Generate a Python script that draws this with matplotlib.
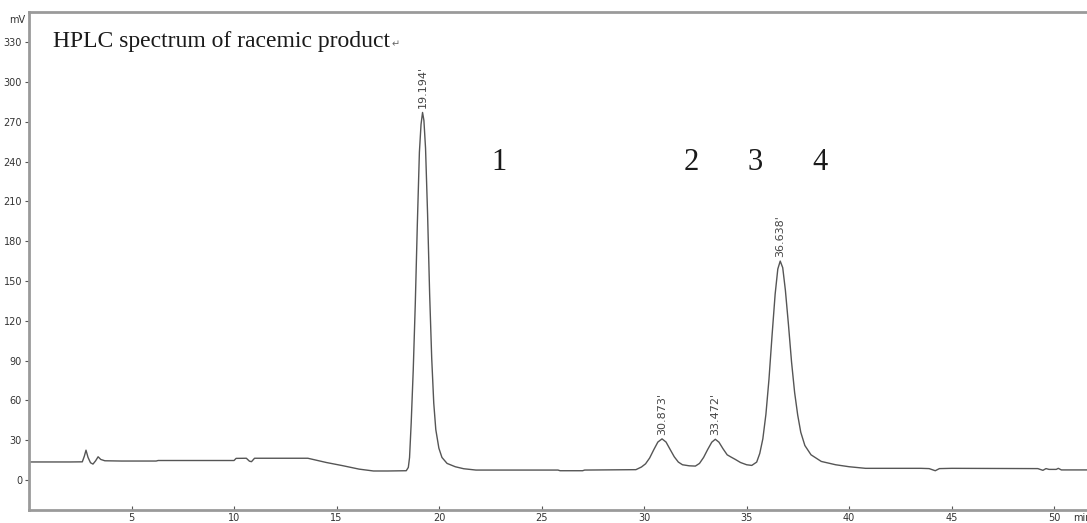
import matplotlib
matplotlib.use("Agg")
import matplotlib.pyplot as plt

# chromatogram trace: retention time (min) / detector signal (mV)
time_min = [
    0.0, 1.0, 2.0, 2.6, 2.7, 2.78, 2.88, 3.0, 3.12, 3.25, 3.37, 3.5, 3.7,
    4.5, 6.2, 6.3, 8.0, 10.0, 10.1, 10.6, 10.75, 10.85, 11.0, 12.0, 13.6,
    14.5, 15.3, 16.1, 16.8, 17.5, 18.4, 18.5, 18.56, 18.64, 18.74, 18.84,
    18.94, 19.04, 19.12, 19.194, 19.26, 19.34, 19.44, 19.54, 19.64, 19.74,
    19.84, 19.99, 20.14, 20.39, 20.79, 21.2, 21.8, 25.8, 25.9, 27.0, 27.1,
    29.6, 29.87, 30.07, 30.27, 30.47, 30.67, 30.873, 31.07, 31.27, 31.47,
    31.67, 31.87, 32.2, 32.5, 32.7, 32.9, 33.1, 33.3, 33.472, 33.65, 33.85,
    34.05, 34.25, 34.45, 34.7, 35.0, 35.25, 35.49, 35.64, 35.79, 35.94,
    36.09, 36.24, 36.39, 36.52, 36.638, 36.76, 36.89, 37.04, 37.19, 37.34,
    37.49, 37.64, 37.84, 38.14, 38.64, 39.34, 40.0, 40.8, 43.5, 43.9, 44.2,
    44.4, 45.0, 49.2, 49.45, 49.6, 49.75, 50.1, 50.2, 50.35, 51.6,
]
signal_mv = [
    13.6, 13.6, 13.6, 13.7, 18.0, 22.5, 17.0, 13.0, 12.0, 14.5, 17.5, 15.5, 14.5,
    14.3, 14.3, 14.7, 14.7, 14.7, 16.3, 16.4, 14.2, 13.8, 16.4, 16.4, 16.4,
    13.2, 10.8, 8.2, 6.8, 6.8, 7.0, 9.5, 17.0, 43.0, 83.0, 133.0,
    193.0, 247.0, 268.0, 277.0, 271.0, 250.0, 200.0, 140.0, 92.0, 58.0,
    38.0, 24.0, 17.0, 12.5, 10.0, 8.5, 7.5, 7.5, 7.0, 7.0, 7.5,
    7.8, 9.8, 12.2, 16.6, 22.8, 28.6, 31.0, 28.6, 23.0, 17.5,
    13.5, 11.5, 10.7, 10.5, 12.5, 17.0, 23.0, 28.5, 30.7, 28.5, 23.5,
    19.0, 17.2, 15.5, 13.2, 11.5, 11.0, 13.5, 20.0, 31.0, 49.5,
    76.0, 109.0, 140.0, 159.0, 165.0, 160.0, 143.0, 117.0, 89.0, 66.0,
    49.0, 36.0, 26.0, 19.0, 14.0, 11.5, 10.0, 8.8, 8.8, 8.6, 7.0,
    8.6, 8.8, 8.6, 7.3, 8.6, 8.0, 8.0, 8.8, 7.6, 7.6,
]

# integrated peaks
peak_rt = [19.194, 30.873, 33.472, 36.638]
peak_mv = [277.0, 31.0, 30.7, 165.0]

# compound numbers written over the trace
number_labels = ["1", "2", "3", "4"]
number_x = [22.9, 32.3, 35.4, 38.6]
number_y = [239, 239, 239, 239]

yticks = list(range(0, 331, 30))
xticks = list(range(5, 51, 5))

tick_font = ["Liberation Sans Narrow", "DejaVu Sans"]
serif = ["Liberation Serif", "DejaVu Serif"]
frame_col = "#9a9a9a"

fig = plt.figure(figsize=(10.87, 5.23), dpi=100)
ax = fig.add_axes([29 / 1087, 13 / 523, 1058 / 1087, 498 / 523])

ax.plot(time_min, signal_mv, color="#555555", linewidth=1.0)

ax.set_xlim(0, 51.6)
ax.set_ylim(-22.6, 352.7)

for s in ["left", "top", "bottom"]:
    ax.spines[s].set_color(frame_col)
    ax.spines[s].set_linewidth(2)
ax.spines["right"].set_visible(False)

ax.set_yticks(yticks)
ax.set_yticklabels([str(v) for v in yticks], fontsize=7, family=tick_font, color="#333333")
ax.set_xticks(xticks)
ax.set_xticklabels([str(v) for v in xticks], fontsize=7, family=tick_font, color="#333333")
ax.tick_params(axis="y", direction="out", length=3, width=0.8, color="#555555", pad=2)
ax.tick_params(axis="x", direction="in", length=3, width=0.8, color="#555555", pad=2)

# axis units
ax.text(-0.004, 346.5, "mV", ha="right", va="center", fontsize=7, family=tick_font,
        color="#333333", transform=ax.get_yaxis_transform())
ax.text(50.9, -0.006, "min", ha="left", va="top", fontsize=7, family=tick_font,
        color="#333333", transform=ax.get_xaxis_transform())

# retention time labels above each peak
for rt, h in zip(peak_rt, peak_mv):
    ax.annotate(f"{rt:.3f}'", xy=(rt, h), xytext=(0, 3), textcoords="offset points",
                rotation=90, ha="center", va="bottom", fontsize=8,
                family=tick_font, color="#444444")

for lab, x, y in zip(number_labels, number_x, number_y):
    ax.text(x, y, lab, ha="center", va="center", fontsize=22,
            family=serif, color="#1a1a1a")

title = ax.text(0.0227, 0.93, "HPLC spectrum of racemic product", transform=ax.transAxes,
                ha="left", va="baseline", fontsize=17, family=serif, color="#1a1a1a")

# paragraph mark trailing the title
fig.canvas.draw()
bb = title.get_window_extent()
ax.annotate("\u21b5", xy=(bb.x1, 0.93), xycoords=("figure pixels", "axes fraction"),
            xytext=(1, 0), textcoords="offset points", ha="left", va="baseline",
            fontsize=7, family=["DejaVu Sans"], color="#666666")

fig.savefig("out.png", dpi=100)
